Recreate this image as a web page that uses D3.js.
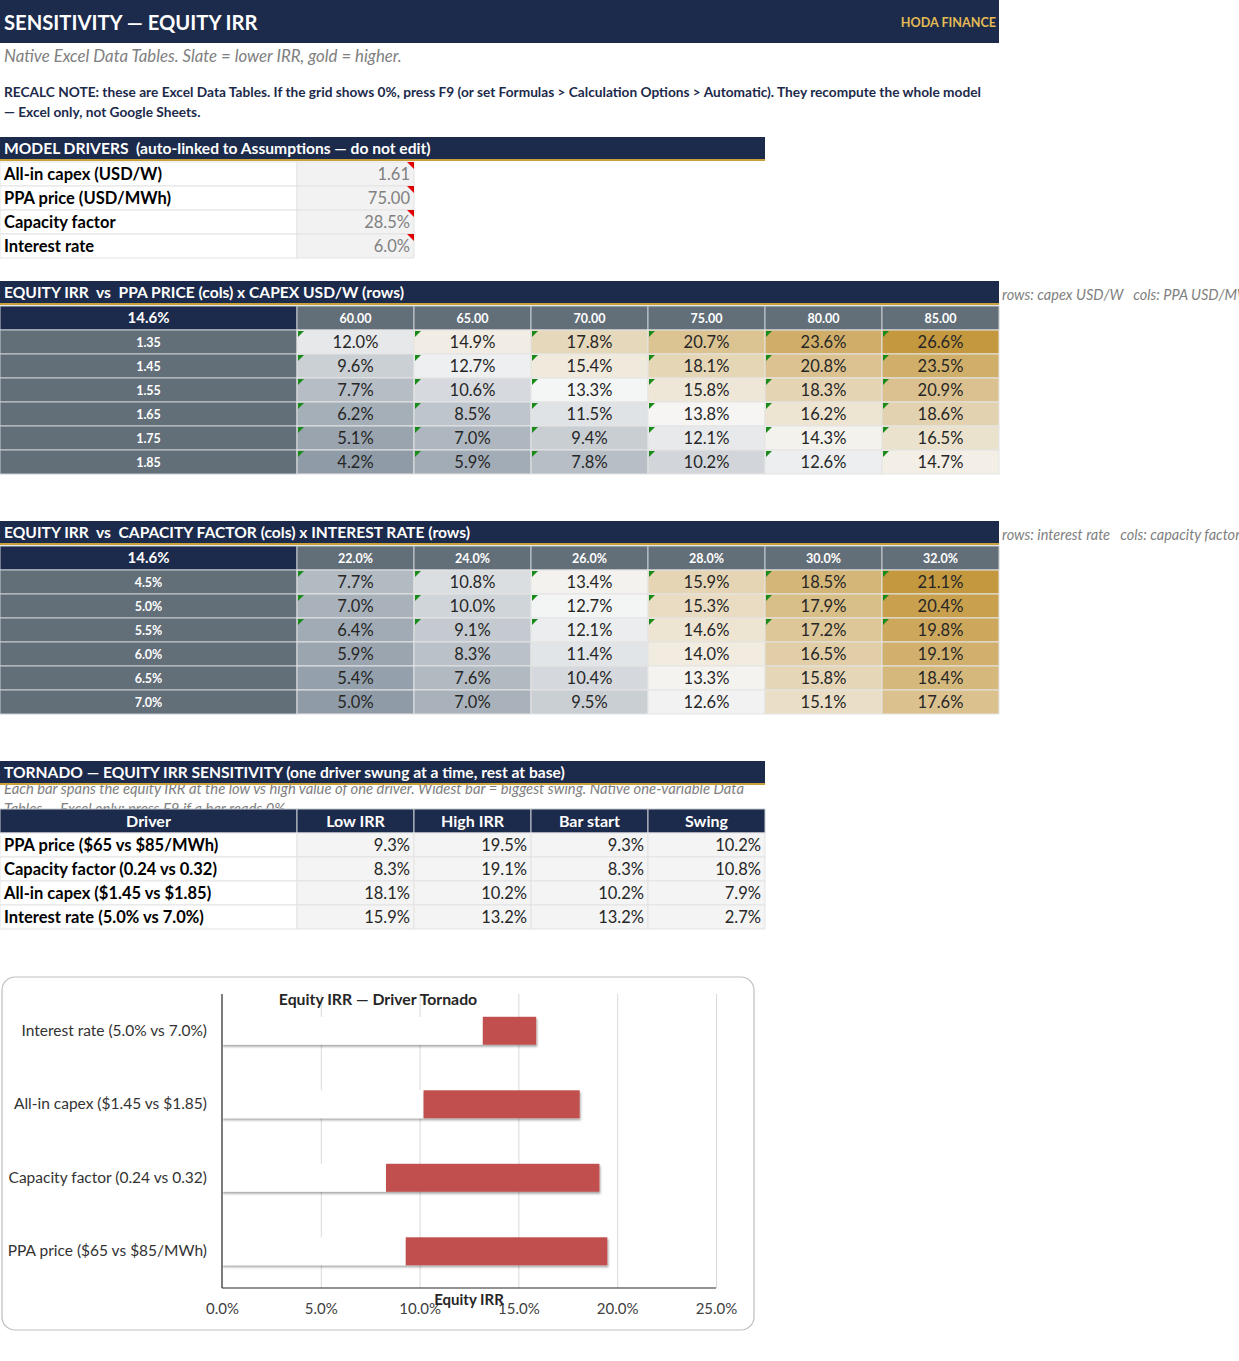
<!DOCTYPE html>
<html lang="en">
<head>
<meta charset="UTF-8">
<title>Sensitivity — Equity IRR</title>
<script src="https://cdn.jsdelivr.net/npm/d3@7"></script>
<style>
  body { margin: 0; background: #fff; }
  svg { display: block; font-family: Lato, "Open Sans", sans-serif; }
  svg text { white-space: pre; }
</style>
</head>
<body>
<svg id="sheet" width="1239" height="1361"></svg>
<script>
// ---- data ----
const driverLabels = ["All-in capex (USD/W)", "PPA price (USD/MWh)", "Capacity factor", "Interest rate"];
const driverValues = ["1.61", "75.00", "28.5%", "6.0%"];

const baseIrr = "14.6%";

const ppaCols = ["60.00", "65.00", "70.00", "75.00", "80.00", "85.00"];
const capexRows = ["1.35", "1.45", "1.55", "1.65", "1.75", "1.85"];
const irrPpaCapex = [
  [12.0, 14.9, 17.8, 20.7, 23.6, 26.6],
  [9.6, 12.7, 15.4, 18.1, 20.8, 23.5],
  [7.7, 10.6, 13.3, 15.8, 18.3, 20.9],
  [6.2, 8.5, 11.5, 13.8, 16.2, 18.6],
  [5.1, 7.0, 9.4, 12.1, 14.3, 16.5],
  [4.2, 5.9, 7.8, 10.2, 12.6, 14.7]
];

const cfCols = ["22.0%", "24.0%", "26.0%", "28.0%", "30.0%", "32.0%"];
const rateRows = ["4.5%", "5.0%", "5.5%", "6.0%", "6.5%", "7.0%"];
const irrCfRate = [
  [7.7, 10.8, 13.4, 15.9, 18.5, 21.1],
  [7.0, 10.0, 12.7, 15.3, 17.9, 20.4],
  [6.4, 9.1, 12.1, 14.6, 17.2, 19.8],
  [5.9, 8.3, 11.4, 14.0, 16.5, 19.1],
  [5.4, 7.6, 10.4, 13.3, 15.8, 18.4],
  [5.0, 7.0, 9.5, 12.6, 15.1, 17.6]
];

const tornadoCols = ["Driver", "Low IRR", "High IRR", "Bar start", "Swing"];
const tornadoDrivers = ["PPA price ($65 vs $85/MWh)", "Capacity factor (0.24 vs 0.32)", "All-in capex ($1.45 vs $1.85)", "Interest rate (5.0% vs 7.0%)"];
const lowIrr = [9.3, 8.3, 18.1, 15.9];
const highIrr = [19.5, 19.1, 10.2, 13.2];
const barStart = [9.3, 8.3, 10.2, 13.2];
const swing = [10.2, 10.8, 7.9, 2.7];

const xTicks = [0, 0.05, 0.10, 0.15, 0.20, 0.25];

// ---- look ----
const NAVY = "#1c2a4b", GOLD = "#c9a13b", SLATE = "#626e78", GRID = "#d9d9d9";
const ROW = 24, COLA = 297, COLW = 117;

const svg = d3.select("#sheet");
const pct = v => v.toFixed(1) + "%";

// banner
svg.append("rect").attr("x", 0).attr("y", 0).attr("width", 999).attr("height", 43).attr("fill", NAVY);
svg.append("text").attr("x", 4).attr("y", 30).attr("fill", "#fff")
  .attr("font-size", 20.2).attr("font-weight", 700).text("SENSITIVITY — EQUITY IRR");
svg.append("text").attr("x", 996).attr("y", 27).attr("fill", "#e2bb55")
  .attr("font-size", 12.6).attr("font-weight", 700).attr("text-anchor", "end").text("HODA FINANCE");

svg.append("text").attr("x", 4).attr("y", 62).attr("fill", "#808080")
  .attr("font-size", 16.8).attr("font-style", "italic")
  .text("Native Excel Data Tables. Slate = lower IRR, gold = higher.");

svg.selectAll("text.recalc")
  .data(["RECALC NOTE: these are Excel Data Tables. If the grid shows 0%, press F9 (or set Formulas > Calculation Options > Automatic). They recompute the whole model",
         "— Excel only, not Google Sheets."])
  .join("text").attr("class", "recalc")
  .attr("x", 4).attr("y", (d, i) => 97 + i * 20)
  .attr("fill", NAVY).attr("font-size", 13.7).attr("font-weight", 700).text(d => d);

function sectionBar(y, w, label) {
  svg.append("rect").attr("x", 0).attr("y", y).attr("width", w).attr("height", 23).attr("fill", NAVY);
  svg.append("rect").attr("x", 0).attr("y", y + 22).attr("width", w).attr("height", 2).attr("fill", GOLD);
  svg.append("text").attr("x", 4).attr("y", y + 17).attr("fill", "#fff")
    .attr("font-size", 15.6).attr("font-weight", 700).text(label);
}

// ---- model drivers ----
sectionBar(137, 765, "MODEL DRIVERS  (auto-linked to Assumptions — do not edit)");
const drvY = d3.scaleBand().domain(driverLabels).range([162, 162 + ROW * driverLabels.length]);
const drv = svg.append("g").selectAll("g").data(driverLabels).join("g")
  .attr("transform", d => `translate(0,${drvY(d)})`);
drv.append("rect").attr("x", 0).attr("width", COLA).attr("height", ROW)
  .attr("fill", "#fff").attr("stroke", "#e3e3e3");
drv.append("rect").attr("x", COLA).attr("width", COLW).attr("height", ROW)
  .attr("fill", "#f2f2f2").attr("stroke", "#e3e3e3");
drv.append("text").attr("x", 4).attr("y", 18).attr("font-size", 16.5).attr("font-weight", 700)
  .attr("fill", "#000").text(d => d);
drv.append("text").attr("x", COLA + COLW - 4).attr("y", 18).attr("font-size", 16.5)
  .attr("fill", "#808080").attr("text-anchor", "end").text((d, i) => driverValues[i]);
drv.append("path").attr("d", `M${COLA + COLW - 7},0H${COLA + COLW}V7Z`).attr("fill", "#e00000");

// ---- two-way data tables ----
function heatTable(top, title, note, cols, rows, grid, flagRows) {
  sectionBar(top, 999, title);
  svg.append("text").attr("x", 1002).attr("y", top + 19).attr("fill", "#7f7f7f")
    .attr("font-size", 14.5).attr("font-style", "italic").text(note);

  const flat = grid.flat();
  const color = d3.scaleLinear()
    .domain([d3.min(flat), d3.median(flat), d3.max(flat)])
    .range(["#8f9ba7", "#f7f7f7", "#c4983e"]);

  const x = d3.scaleBand().domain(cols).range([COLA, COLA + COLW * cols.length]);
  const y = d3.scaleBand().domain(rows).range([top + 25 + ROW, top + 25 + ROW * (rows.length + 1)]);
  const hy = top + 25;

  const g = svg.append("g");
  g.append("rect").attr("x", 0).attr("y", hy).attr("width", COLA).attr("height", ROW)
    .attr("fill", NAVY).attr("stroke", "#c8cdd2");
  g.append("text").attr("x", COLA / 2).attr("y", hy + 17).attr("text-anchor", "middle")
    .attr("fill", "#fff").attr("font-size", 15).attr("font-weight", 700).text(baseIrr);

  g.selectAll("rect.ch").data(cols).join("rect").attr("class", "ch")
    .attr("x", d => x(d)).attr("y", hy).attr("width", x.bandwidth()).attr("height", ROW)
    .attr("fill", SLATE).attr("stroke", "#c8cdd2");
  g.selectAll("text.ch").data(cols).join("text").attr("class", "ch")
    .attr("x", d => x(d) + x.bandwidth() / 2).attr("y", hy + 16.5).attr("text-anchor", "middle")
    .attr("fill", "#fff").attr("font-size", 12.5).attr("font-weight", 700).text(d => d);

  g.selectAll("rect.rh").data(rows).join("rect").attr("class", "rh")
    .attr("x", 0).attr("y", d => y(d)).attr("width", COLA).attr("height", y.bandwidth())
    .attr("fill", SLATE).attr("stroke", "#c8cdd2");
  g.selectAll("text.rh").data(rows).join("text").attr("class", "rh")
    .attr("x", COLA / 2).attr("y", d => y(d) + 16.5).attr("text-anchor", "middle")
    .attr("fill", "#fff").attr("font-size", 12.5).attr("font-weight", 700).text(d => d);

  const cells = rows.flatMap((r, i) => cols.map((c, j) => ({ r, c, v: grid[i][j], flag: flagRows.includes(i) })));
  const cg = g.selectAll("g.cell").data(cells).join("g").attr("class", "cell")
    .attr("transform", d => `translate(${x(d.c)},${y(d.r)})`);
  cg.append("rect").attr("width", x.bandwidth()).attr("height", y.bandwidth())
    .attr("fill", d => color(d.v)).attr("stroke", "#e4e4e4");
  cg.append("text").attr("x", x.bandwidth() / 2).attr("y", 18).attr("text-anchor", "middle")
    .attr("fill", "#262626").attr("font-size", 16.5).text(d => pct(d.v));
  cg.filter(d => d.flag).append("path").attr("d", "M1,1H7L1,7Z").attr("fill", "#1a8a1a");
}

heatTable(281, "EQUITY IRR  vs  PPA PRICE (cols) x CAPEX USD/W (rows)",
  "rows: capex USD/W   cols: PPA USD/MWh", ppaCols, capexRows, irrPpaCapex, [0, 1, 2, 3, 4, 5]);
heatTable(521, "EQUITY IRR  vs  CAPACITY FACTOR (cols) x INTEREST RATE (rows)",
  "rows: interest rate   cols: capacity factor", cfCols, rateRows, irrCfRate, [0, 1, 2]);

// ---- tornado table ----
// the note sits under the bar and table header, so draw it first and let them cover it
svg.selectAll("text.tnote")
  .data(["Each bar spans the equity IRR at the low vs high value of one driver. Widest bar = biggest swing. Native one-variable Data",
         "Tables — Excel only: press F9 if a bar reads 0%"])
  .join("text").attr("class", "tnote")
  .attr("x", 4).attr("y", (d, i) => 794 + i * 20)
  .attr("fill", "#808080").attr("font-size", 14.8).attr("font-style", "italic").text(d => d);
sectionBar(761, 765, "TORNADO — EQUITY IRR SENSITIVITY (one driver swung at a time, rest at base)");

const tx = d3.scaleBand().domain(tornadoCols.slice(1)).range([COLA, COLA + COLW * 4]);
const ty = d3.scaleBand().domain(tornadoDrivers).range([833, 833 + ROW * tornadoDrivers.length]);
const tg = svg.append("g");
tg.append("rect").attr("x", 0).attr("y", 809).attr("width", COLA).attr("height", ROW)
  .attr("fill", NAVY).attr("stroke", "#c8cdd2");
tg.append("text").attr("x", COLA / 2).attr("y", 827).attr("text-anchor", "middle")
  .attr("fill", "#fff").attr("font-size", 16).attr("font-weight", 700).text(tornadoCols[0]);
tg.selectAll("rect.th").data(tx.domain()).join("rect").attr("class", "th")
  .attr("x", d => tx(d)).attr("y", 809).attr("width", tx.bandwidth()).attr("height", ROW)
  .attr("fill", NAVY).attr("stroke", "#c8cdd2");
tg.selectAll("text.th").data(tx.domain()).join("text").attr("class", "th")
  .attr("x", d => tx(d) + tx.bandwidth() / 2).attr("y", 827).attr("text-anchor", "middle")
  .attr("fill", "#fff").attr("font-size", 16).attr("font-weight", 700).text(d => d);

const trow = tg.selectAll("g.tr").data(tornadoDrivers).join("g").attr("class", "tr")
  .attr("transform", d => `translate(0,${ty(d)})`);
trow.append("rect").attr("width", COLA).attr("height", ROW).attr("fill", "#fff").attr("stroke", "#e3e3e3");
trow.append("text").attr("x", 4).attr("y", 18).attr("font-size", 16.5).attr("font-weight", 700).text(d => d);
trow.each(function (d, i) {
  const vals = [lowIrr[i], highIrr[i], barStart[i], swing[i]];
  const row = d3.select(this);
  row.selectAll("rect.v").data(tx.domain()).join("rect").attr("class", "v")
    .attr("x", c => tx(c)).attr("width", tx.bandwidth()).attr("height", ROW)
    .attr("fill", "#f4f4f4").attr("stroke", "#e3e3e3");
  row.selectAll("text.v").data(tx.domain()).join("text").attr("class", "v")
    .attr("x", c => tx(c) + tx.bandwidth() - 4).attr("y", 18).attr("text-anchor", "end")
    .attr("font-size", 16.5).attr("fill", "#262626").text((c, k) => pct(vals[k]));
});

// ---- tornado chart ----
svg.append("rect").attr("x", 2).attr("y", 977).attr("width", 752).attr("height", 353)
  .attr("rx", 13).attr("fill", "#fff").attr("stroke", "#bfbfbf").attr("stroke-width", 1.2);

const defs = svg.append("defs");
defs.append("filter").attr("id", "shadow").attr("x", "-5%").attr("y", "-20%").attr("width", "110%").attr("height", "160%")
  .append("feDropShadow").attr("dx", 1).attr("dy", 2).attr("stdDeviation", 1)
  .attr("flood-color", "#000").attr("flood-opacity", 0.35);

const cx = d3.scaleLinear().domain([0, 0.25]).range([222, 716]);
const chartOrder = tornadoDrivers.slice().reverse();
const cy = d3.scaleBand().domain(chartOrder).range([994, 1288]).paddingInner(0.62).paddingOuter(0.31);

const chart = svg.append("g");
chart.append("g").attr("transform", "translate(0,1288)")
  .call(d3.axisBottom(cx).tickValues(xTicks.slice(1)).tickSize(-294).tickFormat(""))
  .call(g => g.select(".domain").remove())
  .call(g => g.selectAll(".tick line").attr("stroke", GRID));

const bars = tornadoDrivers.map((d, i) => ({ d, start: barStart[i] / 100, swing: swing[i] / 100 }));
chart.selectAll("rect.base").data(bars).join("rect").attr("class", "base")
  .attr("x", b => cx(0)).attr("y", b => cy(b.d))
  .attr("width", b => cx(b.start) - cx(0)).attr("height", cy.bandwidth())
  .attr("fill", "#fff").attr("filter", "url(#shadow)");
chart.selectAll("rect.swing").data(bars).join("rect").attr("class", "swing")
  .attr("x", b => cx(b.start)).attr("y", b => cy(b.d))
  .attr("width", b => cx(b.start + b.swing) - cx(b.start)).attr("height", cy.bandwidth())
  .attr("fill", "#c0504d").attr("filter", "url(#shadow)");

chart.append("line").attr("x1", 222).attr("x2", 222).attr("y1", 994).attr("y2", 1288)
  .attr("stroke", "#262626").attr("stroke-width", 1.2);
chart.append("line").attr("x1", 222).attr("x2", 716).attr("y1", 1288).attr("y2", 1288)
  .attr("stroke", "#262626").attr("stroke-width", 1.2);

chart.append("g").attr("transform", "translate(0,1288)")
  .call(d3.axisBottom(cx).tickValues(xTicks).tickSize(0).tickPadding(15).tickFormat(d3.format(".1%")))
  .call(g => g.select(".domain").remove())
  .call(g => g.selectAll("text").attr("font-family", "Lato, sans-serif").attr("font-size", 15).attr("fill", "#404040"));

chart.selectAll("text.cat").data(chartOrder).join("text").attr("class", "cat")
  .attr("x", 207).attr("y", d => cy(d) + cy.bandwidth() / 2 + 5).attr("text-anchor", "end")
  .attr("font-size", 15.5).attr("fill", "#333").text(d => d);

chart.append("text").attr("x", 378).attr("y", 1005).attr("text-anchor", "middle")
  .attr("font-size", 15.8).attr("font-weight", 700).attr("fill", "#262626").text("Equity IRR — Driver Tornado");
chart.append("text").attr("x", 469).attr("y", 1305).attr("text-anchor", "middle")
  .attr("font-size", 15).attr("font-weight", 700).attr("fill", "#262626").text("Equity IRR");
</script>
</body>
</html>
